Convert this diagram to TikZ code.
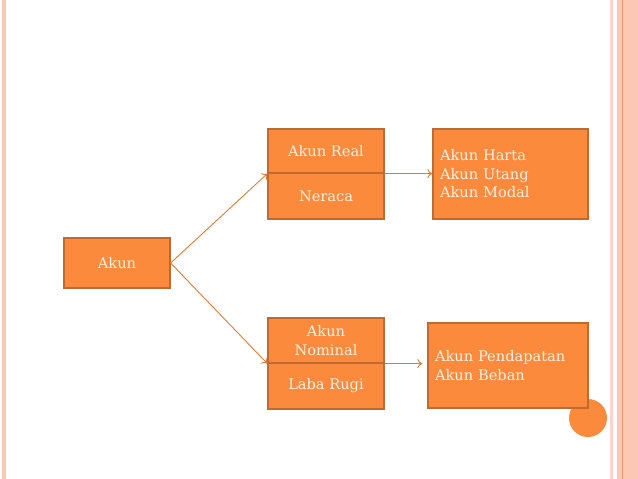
\documentclass[tikz,border=0pt]{standalone}
\usepackage{fontspec}
\setmainfont{DejaVu Serif}
\usetikzlibrary{arrows.meta}
\definecolor{boxfill}{HTML}{FB8A3C}
\definecolor{boxline}{HTML}{BF6A30}
\definecolor{boxtext}{HTML}{FEF0E2}
\definecolor{conn}{HTML}{E47B35}
\definecolor{stripe}{HTML}{FCC8B4}
\definecolor{stripelight}{HTML}{FAD5C8}
\definecolor{stripeline}{HTML}{E8947A}
\tikzset{
  box/.style={draw=boxline, line width=1.2pt, fill=boxfill, text=boxtext,
    font=\fontsize{14.6}{18.5}\selectfont, inner sep=0pt, align=center},
  conn/.style={draw=conn, line width=0.9pt, -{To[length=5pt,width=9pt]}}
}
\begin{document}
\begin{tikzpicture}[x=1pt,y=-1pt]
\useasboundingbox (0,0) rectangle (638,479);
% side stripes
\fill[stripe] (2,0) rectangle (6,479);
\fill[stripelight] (610,0) rectangle (613,479);
\fill[stripe] (617,0) rectangle (638,479);
\draw[stripeline, line width=0.8pt] (622.5,0) -- (622.5,479);
% decorative circle
\fill[boxfill] (588,418) circle (19);
% boxes
\node[box, minimum width=106pt, minimum height=50pt] (akun) at (117,263) {Akun};
\node[box, minimum width=116pt, minimum height=44pt] (realtop) at (326,151) {Akun Real};
\node[box, minimum width=116pt, minimum height=46pt] (realbot) at (326,196) {Neraca};
\node[box, minimum width=155pt, minimum height=90pt, text width=141pt, align=left] (harta) at (510.5,174) {Akun Harta\\Akun Utang\\Akun Modal};
\node[box, minimum width=116pt, minimum height=45pt] (nomtop) at (326,340.5) {Akun\\Nominal};
\node[box, minimum width=116pt, minimum height=46pt] (nombot) at (326,386) {Laba Rugi};
\node[box, minimum width=160pt, minimum height=85pt, text width=146pt, align=left] (pend) at (508,365.5) {Akun Pendapatan\\Akun Beban};
% connectors
\draw[conn] (akun.east) -- (realtop.south west);
\draw[conn] (akun.east) -- (nomtop.south west);
\draw[conn] (realtop.south east) -- (realtop.south east -| harta.west);
\draw[conn, shorten >=5pt] (nomtop.south east) -- (nomtop.south east -| pend.west);
\end{tikzpicture}
\end{document}
